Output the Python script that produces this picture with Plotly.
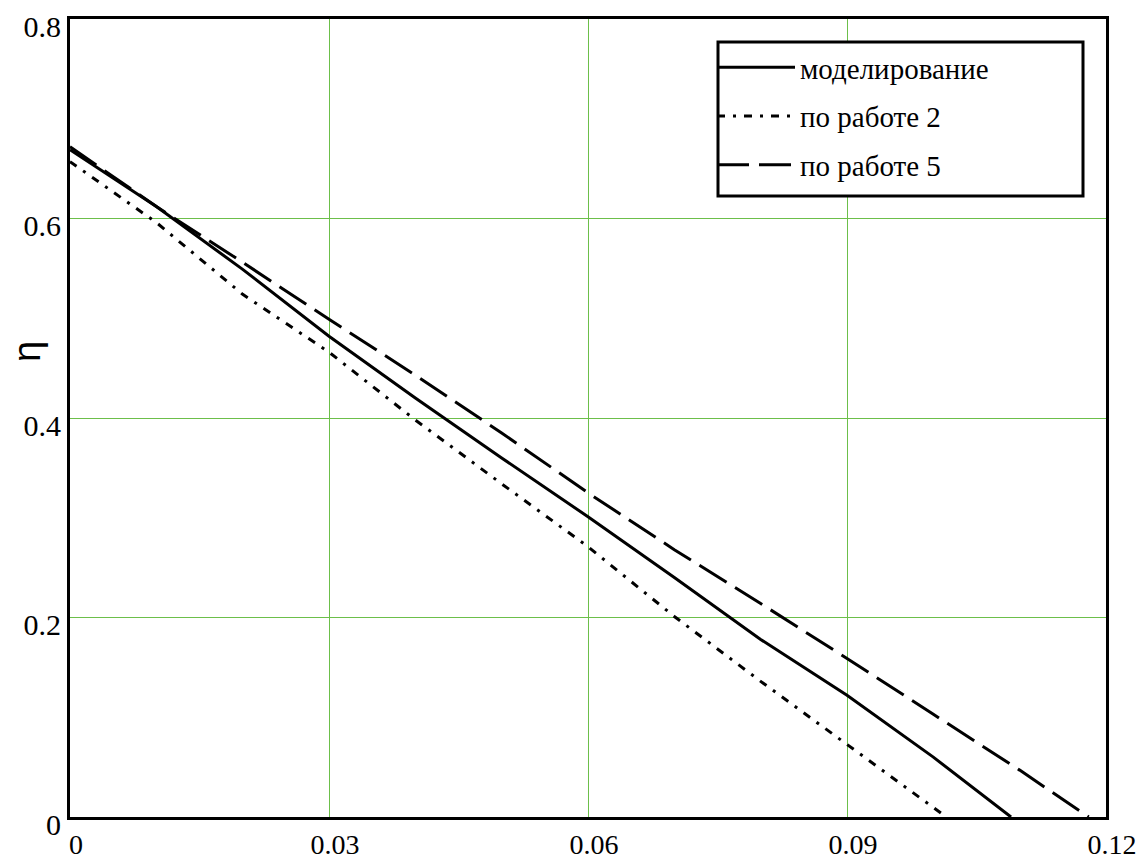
import plotly.graph_objects as go

x_sim = [0.0, 0.01, 0.02, 0.03, 0.04, 0.05, 0.06, 0.07, 0.08, 0.09, 0.10, 0.109]
y_sim = [0.669, 0.612, 0.549, 0.482, 0.420, 0.360, 0.301, 0.240, 0.178, 0.122, 0.060, 0.0]

x_w2 = [0.0, 0.01, 0.02, 0.03, 0.04, 0.05, 0.06, 0.07, 0.08, 0.09, 0.10, 0.1015]
y_w2 = [0.657, 0.596, 0.524, 0.466, 0.398, 0.334, 0.271, 0.201, 0.136, 0.073, 0.010, 0.0]

x_w5 = [0.0, 0.01, 0.02, 0.03, 0.04, 0.05, 0.06, 0.07, 0.08, 0.09, 0.10, 0.11, 0.118]
y_w5 = [0.672, 0.612, 0.556, 0.499, 0.443, 0.385, 0.325, 0.268, 0.214, 0.159, 0.103, 0.047, 0.0]

names = ["моделирование", "по работе 2", "по работе 5"]
x_ticks = [0, 0.03, 0.06, 0.09, 0.12]
x_tick_text = ["0", "0.03", "0.06", "0.09", "0.12"]
y_ticks = [0, 0.2, 0.4, 0.6, 0.8]
y_tick_text = ["0", "0.2", "0.4", "0.6", "0.8"]
y_title = "η"

W, H = 1139, 861
L, R, T, B = 70, 33, 19, 44
PW, PH = W - L - R, H - T - B

def px_x(p):
    return (p - L) / PW

def px_y(p):
    return (H - B - p) / PH

fig = go.Figure()
fig.add_trace(go.Scatter(x=x_sim, y=y_sim, mode="lines", name=names[0], legendgroup="a",
                         line=dict(color="black", width=3, dash="solid")))
fig.add_trace(go.Scatter(x=x_w2, y=y_w2, mode="lines", name=names[1], legendgroup="b",
                         line=dict(color="black", width=3, dash="8px,8px,3px,8px")))
fig.add_trace(go.Scatter(x=x_w5, y=y_w5, mode="lines", name=names[2], legendgroup="c",
                         line=dict(color="black", width=3, dash="32px,10px")))

serif = "Liberation Serif, Times New Roman, serif"
yfont = dict(family=serif, size=30, color="black")
xfont = dict(family=serif, size=28, color="black")
grid = "#6cbf4a"

fig.add_shape(type="rect", xref="paper", yref="paper",
              x0=px_x(718), x1=px_x(1083), y0=px_y(196), y1=px_y(42),
              line=dict(color="black", width=3), fillcolor="white", layer="above")

fig.add_annotation(text=y_title, xref="paper", yref="paper",
                   x=px_x(27), y=px_y(352), xanchor="center", yanchor="middle",
                   textangle=-90, showarrow=False,
                   font=dict(family="Liberation Sans, Arial, sans-serif", size=38, color="black"))

fig.update_layout(
    width=W, height=H,
    margin=dict(l=L, r=R, t=T, b=B, autoexpand=False),
    paper_bgcolor="white", plot_bgcolor="white",
    font=yfont,
    showlegend=True,
    legend=dict(x=px_x(712), y=px_y(42), xanchor="left", yanchor="top",
                bgcolor="rgba(0,0,0,0)", borderwidth=0,
                font=dict(family=serif, size=29, color="black"),
                itemwidth=78, tracegroupgap=8),
    xaxis=dict(range=[0, 0.12], tickvals=x_ticks, ticktext=x_tick_text,
               showgrid=True, gridcolor=grid, gridwidth=1,
               showline=True, linecolor="black", linewidth=3, mirror=True,
               ticks="", zeroline=False, tickfont=xfont, automargin=False,
               ticklabelstandoff=0, ticklabelshift=6, ticklabeloverflow="allow"),
    yaxis=dict(range=[0, 0.8], tickvals=y_ticks, ticktext=y_tick_text,
               showgrid=True, gridcolor=grid, gridwidth=1,
               showline=True, linecolor="black", linewidth=3, mirror=True,
               ticks="", zeroline=False, tickfont=yfont, automargin=False,
               ticklabelstandoff=0, ticklabelshift=7, ticklabeloverflow="allow"),
)

fig.write_html("out.html", config={"displayModeBar": False},
               post_script="document.body.style.margin='0px';document.body.style.overflow='hidden';")
